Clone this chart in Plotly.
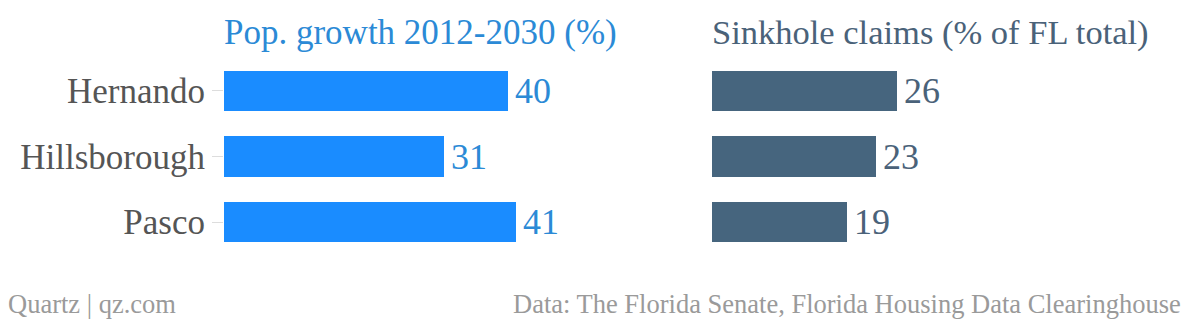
import plotly.graph_objects as go

# Florida counties and their two indicators
counties = ["Hernando", "Hillsborough", "Pasco"]
pop_growth = [40, 31, 41]          # Pop. growth 2012-2030 (%)
sinkhole_claims = [26, 23, 19]     # Sinkhole claims (% of FL total)

left_title = "Pop. growth 2012-2030 (%)"
right_title = "Sinkhole claims (% of FL total)"
source_left = "Quartz | qz.com"
source_right = "Data: The Florida Senate, Florida Housing Data Clearinghouse"

FONT = "Liberation Serif"
BLUE = "#1a8cff"
BLUE_TEXT = "#2b8ad6"
SLATE = "#46657e"
SLATE_TEXT = "#4a6279"
W, H = 1200, 322

fig = go.Figure()
fig.add_trace(go.Bar(
    y=counties, x=pop_growth, orientation="h", width=0.61,
    marker=dict(color=BLUE, line=dict(width=0)),
    xaxis="x", yaxis="y", hoverinfo="skip",
))
fig.add_trace(go.Bar(
    y=counties, x=sinkhole_claims, orientation="h", width=0.61,
    marker=dict(color=SLATE, line=dict(width=0)),
    xaxis="x2", yaxis="y2", hoverinfo="skip",
))

# value labels just past each bar end
annotations = []
for c, v in zip(counties, pop_growth):
    annotations.append(dict(x=v, y=c, xref="x", yref="y", text=str(v),
                            showarrow=False, xanchor="left", xshift=5,
                            font=dict(family=FONT, size=36, color=BLUE_TEXT)))
for c, v in zip(counties, sinkhole_claims):
    annotations.append(dict(x=v, y=c, xref="x2", yref="y2", text=str(v),
                            showarrow=False, xanchor="left", xshift=5,
                            font=dict(family=FONT, size=36, color=SLATE_TEXT)))

# panel titles
annotations.append(dict(x=222 / W, y=1.02, xref="paper", yref="paper",
                        text=left_title, showarrow=False, xanchor="left",
                        yanchor="bottom",
                        font=dict(family=FONT, size=35, color=BLUE_TEXT)))
annotations.append(dict(x=710 / W, y=1.02, xref="paper", yref="paper",
                        text=right_title, showarrow=False, xanchor="left",
                        yanchor="bottom",
                        font=dict(family=FONT, size=34.5, color=SLATE_TEXT)))

# footer
annotations.append(dict(x=6 / W, y=0, xref="paper", yref="paper", yshift=-32,
                        text=source_left, showarrow=False, xanchor="left",
                        yanchor="top",
                        font=dict(family=FONT, size=26.5, color="#9a9a9a")))
annotations.append(dict(x=1183 / W, y=0, xref="paper", yref="paper", yshift=-32,
                        text=source_right, showarrow=False, xanchor="right",
                        yanchor="top",
                        font=dict(family=FONT, size=26.5, color="#9a9a9a")))

px_per_unit = 7.11
left_w = 600 - 224
right_w = 1200 - 712

fig.update_layout(
    width=W, height=H,
    margin=dict(l=0, r=0, t=58, b=67),
    paper_bgcolor="white", plot_bgcolor="white",
    showlegend=False,
    bargap=0,
    annotations=annotations,
    xaxis=dict(domain=[224 / W, 600 / W], range=[0, left_w / px_per_unit],
               visible=False, fixedrange=True),
    xaxis2=dict(domain=[712 / W, 1.0], range=[0, right_w / px_per_unit],
                visible=False, fixedrange=True),
    yaxis=dict(anchor="x", autorange="reversed", showgrid=False,
               showline=False, zeroline=False,
               ticks="outside", ticklen=11, tickcolor="#dddddd", tickwidth=1,
               tickfont=dict(family=FONT, size=35, color="#555555"),
               fixedrange=True),
    yaxis2=dict(anchor="x2", autorange="reversed", showgrid=False,
                showline=False, zeroline=False, showticklabels=False,
                fixedrange=True),
)

fig.write_html("out.html", config={"displayModeBar": False})
